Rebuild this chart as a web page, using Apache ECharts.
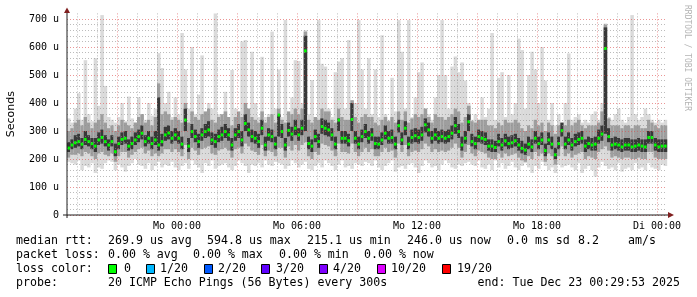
<!DOCTYPE html>
<html><head><meta charset="utf-8">
<script src="https://cdn.jsdelivr.net/npm/echarts@6/dist/echarts.min.js"></script>
<style>html,body{margin:0;padding:0;background:#fff;}#c{width:697px;height:297px;}</style>
</head><body><div id="c"></div>
<script>
// time: minutes relative to Mo 00:00; one step = 10 minutes
const stepStart = -330;
const stepMinutes = 10;
const xMin = -330, xMax = 1470;
const yMin = 0, yMax = 720;

// values in microseconds (u)
const pingMax = [
345,330,380,435,340,553,360,335,560,390,714,461,350,340,330,350,400,335,423,345,330,420,360,340,400,355,380,578,525,400,
440,350,420,360,650,520,380,600,360,430,570,350,400,380,720,360,350,440,340,518,380,350,620,625,380,583,400,350,565,350,
360,655,380,520,350,696,350,420,553,550,400,660,360,482,350,696,540,530,380,350,510,548,560,380,625,350,400,696,520,380,
560,360,520,350,642,360,340,490,370,696,583,380,696,350,420,510,545,380,360,340,420,500,696,500,380,530,566,510,545,480,
400,340,360,340,420,350,380,650,340,490,510,350,500,360,400,630,589,380,500,583,520,400,600,480,340,400,320,360,330,400,
577,340,350,360,330,340,330,360,370,340,400,684,350,340,360,380,340,330,350,714,360,340,350,380,360,340,330,340,330,340];
const upperMid = [
300,310,330,340,320,350,330,310,330,340,360,330,310,320,300,320,340,330,320,310,330,350,360,330,340,320,350,470,360,370,
360,340,350,340,330,400,330,370,350,340,360,370,380,340,330,350,360,370,350,320,350,370,350,400,380,350,340,330,370,330,
350,360,330,380,340,330,370,360,380,360,380,655,340,330,350,340,380,370,370,340,330,380,350,340,340,410,350,330,350,360,
350,350,330,320,340,350,335,350,330,370,340,370,330,345,360,350,360,380,350,330,360,350,350,340,350,360,380,370,330,350,
390,335,330,340,340,340,320,320,310,330,320,340,330,330,340,330,310,300,320,310,340,320,330,300,330,320,290,320,320,320,
340,320,330,340,320,310,320,320,320,330,370,680,345,320,320,320,310,320,320,310,320,320,310,310,340,330,320,310,320,320];
const darkHi = [
260,270,285,290,275,300,285,275,275,295,305,285,270,285,255,280,295,300,270,280,295,305,320,285,300,280,300,420,290,315,
320,300,310,300,280,380,275,325,305,290,310,325,335,295,290,305,315,325,310,275,310,325,300,360,330,305,300,290,340,280,
310,305,280,360,325,275,330,315,340,310,340,640,280,270,305,290,345,340,330,310,280,345,300,300,290,400,300,280,305,325,
300,310,280,280,295,320,300,305,280,340,295,335,280,305,310,305,315,345,330,300,310,300,305,300,305,320,350,325,280,300,
360,290,280,305,300,295,270,270,265,290,275,290,280,285,290,275,265,255,280,270,300,280,295,255,295,280,240,280,330,280,
295,275,290,295,300,270,280,275,280,305,320,670,310,275,280,275,270,275,275,270,270,275,270,270,300,300,275,270,270,270];
const medianRtt = [
239,250,258,262,253,270,262,255,246,268,277,262,250,262,226,255,270,274,246,255,268,280,292,262,274,255,268,250,262,286,
293,274,286,274,253,339,246,298,280,262,286,298,304,268,262,280,286,298,286,250,286,298,268,327,304,280,274,262,310,250,
286,280,253,357,298,250,302,289,310,286,310,586,255,246,280,262,316,310,304,286,253,339,274,274,265,341,274,253,280,298,
274,286,255,253,268,292,274,277,253,319,268,310,253,277,283,277,286,322,304,274,286,274,280,274,280,292,319,298,250,274,
333,262,255,280,274,270,246,246,241,262,250,265,255,258,265,250,238,232,253,243,274,255,268,230,268,253,215,255,301,253,
268,250,262,270,274,246,255,250,253,274,289,595,280,250,253,250,243,250,250,243,246,250,246,243,277,277,250,243,246,246];
const darkLo = [
225,235,240,245,235,250,245,235,225,250,255,245,230,245,210,235,250,255,230,235,250,260,270,245,255,235,250,230,245,265,
270,255,265,255,235,300,225,275,260,240,265,275,280,250,240,260,265,275,265,230,265,275,245,300,280,260,255,240,285,230,
265,260,235,280,275,230,280,265,285,265,285,300,235,225,260,240,290,285,280,265,235,300,255,255,245,300,255,235,260,275,
255,265,235,235,250,270,255,255,235,295,250,285,235,255,260,255,265,295,280,255,265,255,260,255,260,270,290,275,230,255,
300,245,235,260,255,250,230,225,225,245,230,245,235,240,245,230,220,215,235,225,255,235,250,210,250,235,200,235,280,235,
250,230,245,250,255,225,235,230,230,255,265,290,260,230,235,230,225,230,230,225,225,230,225,225,255,255,230,225,225,225];
const lowerMid = [
205,215,215,220,210,225,220,210,200,220,225,215,210,220,190,210,225,225,205,215,225,235,240,220,230,210,220,210,220,235,
235,225,235,225,210,250,200,240,230,215,235,240,245,220,215,230,235,240,230,205,235,240,220,255,245,230,225,215,250,210,
230,225,210,240,240,205,245,230,250,230,250,260,210,200,225,215,255,250,245,230,210,255,225,225,220,255,225,210,225,240,
225,235,210,210,225,240,225,230,205,255,225,250,210,225,230,225,235,255,245,225,235,225,230,225,230,240,255,240,205,225,
250,220,210,230,225,220,205,200,200,220,205,220,210,215,220,205,195,190,210,200,225,210,220,190,220,210,180,210,245,210,
220,205,215,220,225,200,210,205,200,225,235,245,230,205,210,205,200,205,205,200,200,205,200,200,225,225,205,200,200,200];
const pingMin = [
190,185,180,195,160,175,170,185,150,170,165,185,195,190,160,180,170,155,175,185,200,180,175,165,185,160,175,190,170,180,
175,190,170,160,175,185,165,195,180,170,150,185,175,195,165,175,180,185,170,160,175,195,185,175,150,180,175,185,170,195,
180,175,190,185,180,165,175,195,185,170,180,190,165,160,175,185,170,195,185,175,160,180,195,170,175,165,185,180,175,190,
185,175,195,170,160,175,185,195,155,170,175,165,180,185,170,150,175,195,185,170,175,160,180,195,185,170,165,180,175,185,
190,180,175,195,170,165,180,160,195,170,185,165,175,190,170,160,175,185,170,150,175,165,190,175,160,170,150,180,170,175,
180,170,160,185,150,165,175,160,137,170,190,175,165,170,160,185,155,165,170,160,185,165,170,160,185,170,165,160,180,175];

const xLabelValues = [0, 360, 720, 1080, 1440];
const xLabelTexts = ['Mo 00:00', 'Mo 06:00', 'Mo 12:00', 'Mo 18:00', 'Di 00:00'];
const yLabelValues = [0, 100, 200, 300, 400, 500, 600, 700];
const yLabelTexts = ['0', '100 u', '200 u', '300 u', '400 u', '500 u', '600 u', '700 u'];

const medianStats = ['269.9 us avg', '594.8 us max', '215.1 us min', '246.0 us now', '0.0 ms sd', '8.2', 'am/s'];
const lossStats = ['0.00 % avg', '0.00 % max', '0.00 % min', '0.00 % now'];
const lossLabels = ['0', '1/20', '2/20', '3/20', '4/20', '10/20', '19/20'];
const lossColors = ['#00ff00', '#00b8ff', '#0059ff', '#5e00ff', '#7e00ff', '#dd00ff', '#ff0000'];
const probeText = '20 ICMP Echo Pings (56 Bytes) every 300s';
const endText = 'end: Tue Dec 23 00:29:53 2025';

// ---- layout ----
const MONO = 'DejaVu Sans Mono';
const legendFont = '11.6px "DejaVu Sans Mono"';
const medianStatX = [108, 207, 307, 407, 507, 578, 628];
const lossStatX = [108, 193, 279, 364];
const lossBoxX = [108, 146, 204, 261, 319, 377, 442];
const lossLabelX = [124, 160, 218, 276, 333, 391, 457];
const rowY = [241, 255, 269, 283];

const smokeData = medianRtt.map((m, i) => [stepStart + i * stepMinutes, pingMin[i], pingMax[i], lowerMid[i], upperMid[i], darkLo[i], darkHi[i]]);
const medData = medianRtt.map((m, i) => [stepStart + i * stepMinutes, m]);

function txt(text, x, y, align) {
  return {type: 'text', silent: true, style: {text: text, x: x, y: y, font: legendFont, fill: '#000',
    align: align || 'left', verticalAlign: 'middle', textAlign: align || 'left', textVerticalAlign: 'middle'}};
}
const graphics = [];
graphics.push(txt('median rtt:', 16, rowY[0]));
medianStats.forEach((s, i) => graphics.push(txt(s, medianStatX[i], rowY[0])));
graphics.push(txt('packet loss:', 16, rowY[1]));
lossStats.forEach((s, i) => graphics.push(txt(s, lossStatX[i], rowY[1])));
graphics.push(txt('loss color:', 16, rowY[2]));
lossLabels.forEach((s, i) => {
  graphics.push({type: 'rect', silent: true, shape: {x: lossBoxX[i] + 0.5, y: rowY[2] - 4.5, width: 8, height: 9},
    style: {fill: lossColors[i], stroke: '#000', lineWidth: 1}});
  graphics.push(txt(s, lossLabelX[i], rowY[2]));
});
graphics.push(txt('probe:', 16, rowY[3]));
graphics.push(txt(probeText, 108, rowY[3]));
graphics.push(txt(endText, 680, rowY[3], 'right'));
graphics.push({type: 'text', silent: true, x: 687, y: 5, rotation: -Math.PI / 2,
  style: {text: 'RRDTOOL / TOBI OETIKER', x: 0, y: 0, font: '8px "DejaVu Sans Mono"', fill: '#b4b4b4',
    align: 'left', verticalAlign: 'middle', textAlign: 'left', textVerticalAlign: 'middle'}});

const minorC = 'rgba(143,143,143,0.6)';
const majorC = 'rgba(222,79,79,0.6)';
const clear = 'rgba(0,0,0,0)';

const chart = echarts.init(document.getElementById('c'), null, {renderer: 'canvas'});
chart.setOption({
  animation: false,
  backgroundColor: '#fff',
  grid: {left: 67, right: 30, top: 13.4, bottom: 82, containLabel: false, outerBoundsMode: 'none'},
  xAxis: {
    type: 'value', min: xMin, max: xMax, interval: 30, z: 5,
    axisLine: {show: false}, axisTick: {show: false},
    axisLabel: {interval: 0, margin: 6, color: '#000', fontFamily: MONO, fontSize: 10,
      formatter: v => { const k = xLabelValues.indexOf(Math.round(v)); return k >= 0 ? xLabelTexts[k] : ''; }},
    splitLine: {show: true, showMaxLine: false,
      lineStyle: {color: [clear, minorC, clear, minorC, clear, majorC], width: 1, type: [1, 2]}}
  },
  yAxis: {
    type: 'value', min: yMin, max: yMax, interval: 20, z: 5,
    name: 'Seconds', nameLocation: 'middle', nameGap: 50, nameRotate: 90,
    nameTextStyle: {fontFamily: 'DejaVu Sans', fontSize: 11, color: '#000'},
    axisLine: {show: false}, axisTick: {show: false},
    axisLabel: {margin: 8, color: '#000', fontFamily: MONO, fontSize: 10, showMaxLabel: false,
      formatter: v => { const k = yLabelValues.indexOf(Math.round(v)); return k >= 0 ? yLabelTexts[k] : ''; }},
    splitLine: {show: true, showMaxLine: false,
      lineStyle: {color: [majorC, minorC, minorC, minorC, minorC], width: 1, type: [1, 2]}}
  },
  series: [
    {
      type: 'custom', name: 'smoke', z: 2, data: smokeData, clip: false,
      encode: {x: 0, y: [1, 2]},
      renderItem: function (params, api) {
        const x0 = api.value(0);
        const xl = api.coord([x0, 0])[0];
        const w = api.size([stepMinutes, 0])[0];
        function band(lo, hi, color) {
          const yl = api.coord([x0, lo])[1], yh = api.coord([x0, hi])[1];
          return {type: 'rect', shape: {x: xl, y: yh, width: w + 0.2, height: yl - yh}, style: {fill: color}};
        }
        return {type: 'group', children: [
          band(api.value(1), api.value(2), '#dadada'),
          band(api.value(3), api.value(4), '#9e9e9e'),
          band(api.value(5), api.value(6), '#383838')
        ]};
      }
    },
    {
      type: 'custom', name: 'median', z: 3, data: medData, clip: false,
      encode: {x: 0, y: 1},
      renderItem: function (params, api) {
        const p = api.coord([api.value(0), api.value(1)]);
        const w = api.size([stepMinutes, 0])[0];
        return {type: 'rect', shape: {x: p[0] + 0.4, y: p[1] - 1.5, width: w - 0.8, height: 3}, style: {fill: '#00ff00'}};
      }
    },
    {
      type: 'custom', name: 'axes', z: 6, data: [[xMin, yMin]], clip: false, silent: true,
      renderItem: function (params, api) {
        const o = api.coord([xMin, yMin]);
        const xe = api.coord([xMax, yMin]);
        const ye = api.coord([xMin, yMax]);
        const axisC = 'rgb(31,31,31)', arrowC = 'rgb(128,31,31)';
        return {type: 'group', children: [
          {type: 'line', shape: {x1: o[0] - 4, y1: o[1], x2: xe[0] + 1, y2: o[1]}, style: {stroke: axisC, lineWidth: 1}},
          {type: 'line', shape: {x1: o[0], y1: o[1] + 3, x2: o[0], y2: ye[1] - 1}, style: {stroke: axisC, lineWidth: 1}},
          {type: 'polygon', shape: {points: [[xe[0] + 1, o[1] - 3], [xe[0] + 7, o[1]], [xe[0] + 1, o[1] + 3]]}, style: {fill: arrowC}},
          {type: 'polygon', shape: {points: [[o[0] - 3, ye[1] - 0.5], [o[0], ye[1] - 6], [o[0] + 3, ye[1] - 0.5]]}, style: {fill: arrowC}}
        ]};
      }
    }
  ],
  graphic: graphics
});
</script></body></html>
